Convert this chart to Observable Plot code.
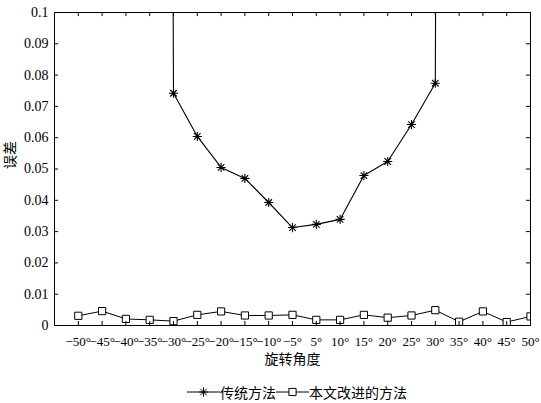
<!DOCTYPE html>
<html><head><meta charset="utf-8">
<script src="https://cdn.jsdelivr.net/npm/d3@7"></script>
<script src="https://cdn.jsdelivr.net/npm/@observablehq/plot@0.6"></script>
<style>
body{margin:0;background:#fff;position:relative;width:541px;height:403px;overflow:hidden;}
#legend{position:absolute;left:187px;top:384px;display:flex;align-items:center;font-family:"Noto Sans CJK SC";font-size:14px;color:#000;line-height:16px;}
#legend svg{display:block;}
</style></head><body><div id="chart"></div><div id="legend"></div><script>
const angles = ["−50°","−45°","−40°","−35°","−30°","−25°","−20°","−15°","−10°","−5°","5°","10°","15°","20°","25°","30°","35°","40°","45°","50°"];
const traditional = [null,null,null,2,0.0742,0.0604,0.0505,0.047,0.0393,0.0313,0.0323,0.0339,0.0479,0.0524,0.0642,0.0774,2,null,null,null];
const improved = [0.0031,0.0046,0.0021,0.0018,0.0014,0.0034,0.0045,0.0032,0.0032,0.0034,0.0018,0.0018,0.0034,0.0025,0.0032,0.0049,0.0012,0.0045,0.0011,0.0029];
const yTicks = [0,0.01,0.02,0.03,0.04,0.05,0.06,0.07,0.08,0.09,0.1];
const seriesNames = ["传统方法","本文改进的方法"];

const pos = angles.map((d,i)=>i+1);
const tradData = angles.map((a,i)=>({x:i+1,y:traditional[i]}));
const impData = angles.map((a,i)=>({x:i+1,y:improved[i]}));

const asterisk = {draw(ctx, size){const r=Math.sqrt(size/Math.PI);const d=r*Math.SQRT1_2;
  ctx.moveTo(-r,0);ctx.lineTo(r,0);ctx.moveTo(0,-r);ctx.lineTo(0,r);
  ctx.moveTo(-d,-d);ctx.lineTo(d,d);ctx.moveTo(-d,d);ctx.lineTo(d,-d);}};
const square = {draw(ctx,size){const r=Math.sqrt(size/Math.PI)*0.8;ctx.rect(-r,-r,2*r,2*r);}};

const fontTick = "'Liberation Serif','Times New Roman',Times,serif";
const fontCJK = "'Noto Sans CJK SC',sans-serif";
const plot = Plot.plot({
  width:541, height:372,
  marginTop:12, marginLeft:54, marginRight:11, marginBottom:47,
  style:{fontFamily:fontTick, fontSize:"14px", background:"#fff", color:"#000"},
  x:{domain:[0,20]},
  y:{domain:[0,0.1]},
  marks:[
    Plot.line(impData,{x:"x",y:"y",stroke:"#000",strokeWidth:1,clip:true}),
    Plot.dot(impData,{x:"x",y:"y",symbol:square,r:4.5,stroke:"#000",fill:"#fff",strokeWidth:1,clip:true}),
    Plot.line(tradData,{x:"x",y:"y",stroke:"#000",strokeWidth:1.1,clip:true}),
    Plot.dot(tradData,{x:"x",y:"y",symbol:asterisk,r:4.6,stroke:"#000",strokeWidth:1.1,clip:true}),
    Plot.ruleX(pos,{x:d=>d,y1:0,y2:0.0013,stroke:"#000"}),
    Plot.ruleX(pos,{x:d=>d,y1:0.1,y2:0.0987,stroke:"#000"}),
    Plot.ruleY(yTicks,{y:d=>d,x1:0,x2:0.17,stroke:"#000"}),
    Plot.ruleY(yTicks,{y:d=>d,x1:20,x2:19.83,stroke:"#000"}),
    Plot.frame({stroke:"#000",strokeWidth:1}),
    Plot.axisX({ticks:pos,tickFormat:i=>angles[i-1],tickSize:0,tickPadding:11,fontSize:13,fontFamily:fontTick,label:null}),
    Plot.axisY({ticks:yTicks,tickFormat:d=>String(+d.toFixed(2)),tickSize:0,tickPadding:6,fontSize:14,fontFamily:fontTick,label:null}),
    Plot.text(["旋转角度"],{frameAnchor:"bottom",dy:38,fontSize:14,fontFamily:fontCJK,fill:"#000"}),
    Plot.text(["误差"],{frameAnchor:"left",dx:-44,rotate:-90,fontSize:14,fontFamily:fontCJK,fill:"#000"})
  ]
});
document.getElementById("chart").appendChild(plot);

const lg = document.getElementById("legend");
function sample(kind){
  const ns="http://www.w3.org/2000/svg";
  const s=document.createElementNS(ns,"svg");s.setAttribute("width","33");s.setAttribute("height","16");
  const l=document.createElementNS(ns,"line");l.setAttribute("x1","0");l.setAttribute("x2","33");l.setAttribute("y1","8");l.setAttribute("y2","8");l.setAttribute("stroke","#000");s.appendChild(l);
  const p=document.createElementNS(ns,"path");
  const path=d3.path();(kind===0?asterisk:square).draw(path,Math.PI*(kind===0?4.6:4.5)**2);
  p.setAttribute("d",path.toString());p.setAttribute("transform","translate(16.5,8)");
  p.setAttribute("stroke","#000");p.setAttribute("fill",kind===0?"none":"#fff");s.appendChild(p);
  return s;
}
seriesNames.forEach((n,k)=>{lg.appendChild(sample(k));const t=document.createElement("span");t.textContent=n;lg.appendChild(t);});
</script></body></html>
